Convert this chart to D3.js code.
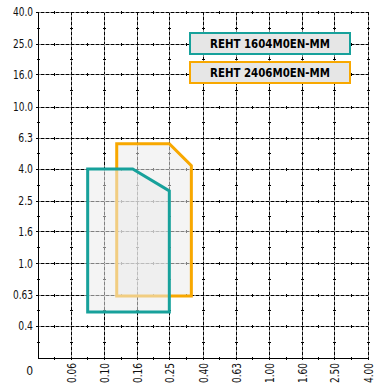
<!DOCTYPE html>
<html><head><meta charset="utf-8">
<script src="https://cdn.jsdelivr.net/npm/d3@7"></script>
<style>body{margin:0;background:#fff}svg{display:block}</style>
</head><body>
<svg id="chart" width="377" height="387"></svg>
<script>
const xTicks = [0.063, 0.1, 0.16, 0.25, 0.4, 0.63, 1.0, 1.6, 2.5, 4.0];
const xTickLabels = ["0.06","0.10","0.16","0.25","0.40","0.63","1.00","1.60","2.50","4.00"];
const yTicks = [0.4, 0.63, 1.0, 1.6, 2.5, 4.0, 6.3, 10, 16, 25, 40];
const yTickLabels = ["0.4","0.63","1.0","1.6","2.5","4.0","6.3","10.0","16.0","25.0","40.0"];
const originLabel = "0";
const seriesNames = ["REHT 1604M0EN-MM", "REHT 2406M0EN-MM"];
const seriesColors = ["#17a19b", "#f8a800"];
// polygon vertices [feed, depth]
const tealArea = [[0.08,0.49],[0.08,4.0],[0.15,4.0],[0.25,2.9],[0.25,0.49]];
const orangeArea = [[0.12,0.62],[0.12,5.8],[0.25,5.8],[0.34,4.2],[0.34,0.62]];

const svg = d3.select("#chart");
const L = 38, R = 368, T = 12, B = 358;
const x = d3.scaleLog().domain([0.04, 4]).range([L, R]);
const y = d3.scaleLog().domain([0.25, 40]).range([B, T]);
const font = "'DejaVu Sans Condensed','Liberation Sans Narrow',sans-serif";

const grid = svg.append("g");
const xs = [L].concat(xTicks.map(x));
const ys = [B].concat(yTicks.map(y));
xTicks.forEach(v => {
  const px = Math.round(x(v)) + 0.5;
  grid.append("line").attr("x1",px).attr("x2",px).attr("y1",T).attr("y2",B+2).attr("stroke","#808080");
  grid.append("line").attr("x1",px).attr("x2",px).attr("y1",T).attr("y2",B+2).attr("stroke","#000").attr("stroke-dasharray","3,2");
});
yTicks.forEach(v => {
  const py = Math.round(y(v)) + 0.5;
  grid.append("line").attr("x1",L-2).attr("x2",R).attr("y1",py).attr("y2",py).attr("stroke","#808080");
  grid.append("line").attr("x1",L-2).attr("x2",R).attr("y1",py).attr("y2",py).attr("stroke","#000").attr("stroke-dasharray","3,2");
});
for (let i = 0; i < ys.length - 1; i++) {
  const my = Math.round((ys[i] + ys[i+1]) / 2) + 0.5;
  xs.forEach(px => {
    grid.append("line").attr("x1",Math.round(px)-1).attr("x2",Math.round(px)+2).attr("y1",my).attr("y2",my).attr("stroke","#000");
  });
}
for (let i = 0; i < xs.length - 1; i++) {
  const mx = Math.round((xs[i] + xs[i+1]) / 2) + 0.5;
  ys.forEach(py => {
    grid.append("line").attr("x1",mx).attr("x2",mx).attr("y1",Math.round(py)-1).attr("y2",Math.round(py)+2).attr("stroke","#000");
  });
}

const line = d3.line().x(d => x(d[0])).y(d => y(d[1])).curve(d3.curveLinearClosed);
[[orangeArea, seriesColors[1]], [tealArea, seriesColors[0]]].forEach(([data, c]) => {
  svg.append("path").attr("d", line(data)).attr("fill","#ebebeb").attr("fill-opacity",0.55)
    .attr("stroke", c).attr("stroke-width", 3).attr("stroke-linejoin","miter");
});

svg.append("line").attr("x1",L+0.5).attr("x2",L+0.5).attr("y1",T).attr("y2",B+0.5).attr("stroke","#000");
svg.append("line").attr("x1",L).attr("x2",R+1).attr("y1",B+0.5).attr("y2",B+0.5).attr("stroke","#000");

svg.append("g").selectAll("text").data(yTicks).join("text")
  .attr("x", L-5).attr("y", d => y(d)).attr("dy","0.36em")
  .attr("text-anchor","end").attr("font-family",font).attr("font-size",12).attr("fill","#111")
  .attr("textLength",(d,i) => yTickLabels[i].length * 5.4 - 1.5).attr("lengthAdjust","spacingAndGlyphs")
  .text((d,i) => yTickLabels[i]);
svg.append("text").attr("x", L-5).attr("y", B+13).attr("dy","0.36em")
  .attr("text-anchor","end").attr("font-family",font).attr("font-size",12).attr("fill","#111").text(originLabel);
svg.append("g").selectAll("text").data(xTicks).join("text")
  .attr("transform", d => `translate(${Math.round(x(d))+0.5},${B+5}) rotate(-90)`)
  .attr("dy","0.36em").attr("text-anchor","end")
  .attr("font-family",font).attr("font-size",12).attr("fill","#111")
  .attr("textLength",20).attr("lengthAdjust","spacingAndGlyphs")
  .text((d,i) => xTickLabels[i]);

const lg = svg.append("g");
seriesNames.forEach((n, i) => {
  const ly = 33 + i * 29;
  lg.append("rect").attr("x",190).attr("y",ly).attr("width",160).attr("height",21)
    .attr("fill","#e6e6e6").attr("stroke",seriesColors[i]).attr("stroke-width",2);
  lg.append("text").attr("x",270).attr("y",ly+10.5).attr("dy","0.36em").attr("text-anchor","middle")
    .attr("font-family",font).attr("font-weight","bold").attr("font-size",13).attr("fill","#000")
    .attr("textLength",120).attr("lengthAdjust","spacingAndGlyphs").text(n);
});
</script>
</body></html>
